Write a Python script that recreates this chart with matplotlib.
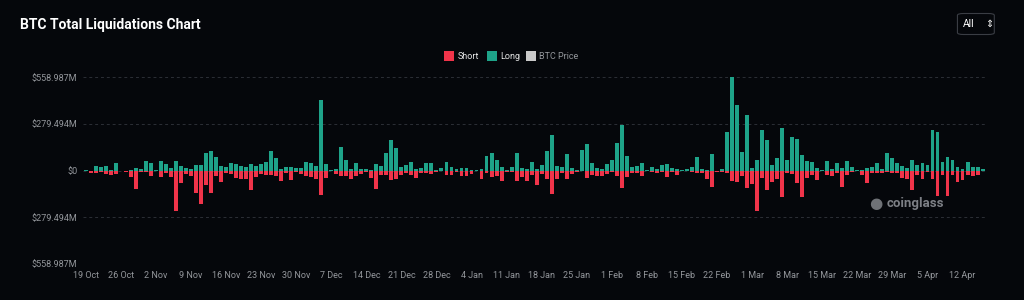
import numpy as np
import pandas as pd
import matplotlib
matplotlib.use("Agg")
import matplotlib.pyplot as plt
from matplotlib.patches import Rectangle, FancyBboxPatch

# daily liquidations in $M, 19 Oct 2020 .. 16 Apr 2021
dates = pd.date_range("2020-10-19", periods=180, freq="D")

long_liq = [
    2, 1, 28, 20, 30, 6, 48, 1, 1, 6, 16, 12, 60, 48, 4, 56, 42, 16, 60, 28,
    18, 10, 34, 34, 105, 121, 84, 30, 20, 44, 40, 28, 20, 38, 26, 40, 54, 121, 76, 12,
    24, 20, 18, 18, 50, 46, 28, 422, 42, 6, 12, 143, 62, 10, 44, 10, 12, 6, 42, 26,
    107, 183, 135, 20, 36, 50, 12, 14, 48, 48, 4, 14, 50, 20, 8, 16, 18, 4, 4, 10,
    88, 105, 62, 24, 4, 24, 109, 16, 12, 54, 10, 36, 117, 215, 28, 22, 99, 16, 4, 127,
    159, 48, 14, 8, 38, 62, 163, 271, 88, 22, 26, 46, 4, 24, 8, 32, 42, 18, 12, 4,
    12, 20, 82, 8, 4, 101, 1, 10, 229, 558.987, 393, 111, 331, 18, 64, 241, 183, 36, 76, 258,
    63, 201, 190, 92, 60, 55, 16, 4, 60, 12, 48, 18, 58, 20, 2, 4, 18, 20, 44, 8,
    109, 76, 44, 26, 16, 64, 36, 48, 36, 245, 231, 52, 84, 64, 22, 8, 54, 20, 20, 10,
]

short_liq = [
    2, 12, 14, 8, 22, 24, 18, 4, 8, 40, 108, 8, 6, 34, 4, 38, 12, 38, 243, 72,
    22, 34, 134, 199, 84, 134, 32, 66, 16, 18, 42, 48, 48, 115, 38, 18, 24, 28, 34, 62,
    16, 54, 10, 18, 30, 36, 52, 147, 44, 4, 18, 34, 30, 48, 30, 18, 10, 44, 111, 24,
    24, 56, 52, 24, 12, 28, 46, 14, 14, 18, 8, 4, 28, 24, 10, 34, 34, 18, 4, 48,
    16, 38, 32, 60, 10, 10, 60, 36, 60, 26, 84, 20, 50, 139, 52, 12, 50, 18, 6, 4,
    42, 24, 32, 30, 18, 8, 34, 105, 38, 16, 14, 30, 4, 8, 16, 6, 36, 8, 28, 4,
    2, 8, 16, 14, 48, 99, 6, 6, 12, 64, 68, 34, 101, 78, 243, 42, 116, 70, 48, 157,
    13, 18, 73, 157, 45, 25, 58, 4, 28, 32, 12, 97, 26, 10, 4, 26, 76, 16, 16, 16,
    8, 14, 14, 44, 52, 115, 28, 48, 10, 48, 153, 26, 149, 24, 68, 54, 28, 32, 26, 2,
]

y_max = 558.987
y_ticks = [y_max, y_max / 2, 0, -y_max / 2, -y_max]
y_labels = ["$558.987M", "$279.494M", "$0", "$279.494M", "$558.987M"]

BG = "#05070b"
GREEN = "#1ea389"
RED = "#f0344a"
GREY = "#94979c"

plt.rcParams["font.family"] = ["Roboto", "DejaVu Sans"]

fig = plt.figure(figsize=(10.24, 3.0), dpi=100, facecolor=BG)
ax = fig.add_axes([0.081, 0.12, 0.881, 0.622], facecolor=BG)

x = np.arange(len(dates))
ax.bar(x, long_liq, width=0.78, color=GREEN, linewidth=0)
ax.bar(x, [-v for v in short_liq], width=0.78, color=RED, linewidth=0)

ax.set_xlim(-0.55, len(dates) - 0.5)
ax.set_ylim(-y_max, y_max)
ax.set_yticks(y_ticks)
ax.set_yticklabels(y_labels)
ax.set_xticks(x[::7])
ax.set_xticklabels([f"{d.day} {d.strftime('%b')}" for d in dates[::7]])
ax.tick_params(length=0, colors=GREY, labelsize=6.5)
ax.tick_params(axis="y", pad=4)
ax.tick_params(axis="x", pad=5)
ax.grid(axis="y", color="#2c2f36", linestyle=(0, (3, 3)), linewidth=0.7)
ax.set_axisbelow(True)
for s in ax.spines.values():
    s.set_visible(False)

# title and range selector
fig.text(0.02, 0.918, "BTC Total Liquidations Chart", color="white",
         fontsize=10, fontweight="bold", va="center")
fig.patches.append(FancyBboxPatch((0.935, 0.885), 0.036, 0.07, transform=fig.transFigure,
                                  boxstyle="round,pad=0,rounding_size=0.006",
                                  facecolor=BG, edgecolor="#3a3d44", linewidth=0.8))
fig.text(0.940, 0.92, "All", color="white", fontsize=7.5, va="center")
fig.text(0.962, 0.92, "⇕", color="white", fontsize=7, va="center", family="DejaVu Sans")

# legend
items = [("Short", RED, "#e6e6e6", 0.434), ("Long", GREEN, "#e6e6e6", 0.476),
         ("BTC Price", "#c9c9c9", GREY, 0.514)]
for label, col, tcol, xf in items:
    fig.patches.append(Rectangle((xf, 0.797), 0.0095, 0.032, transform=fig.transFigure,
                                 facecolor=col, edgecolor="none"))
    fig.text(xf + 0.0125, 0.813, label, color=tcol, fontsize=6.5, va="center")

# watermark
fig.text(0.855, 0.323, "●", color="#6f7277", fontsize=11, va="center", ha="center",
         family="DejaVu Sans")
fig.text(0.866, 0.323, "coinglass", color="#7d8086", fontsize=9.5,
         fontweight="bold", va="center")

fig.savefig("out.png", dpi=100, facecolor=BG)
